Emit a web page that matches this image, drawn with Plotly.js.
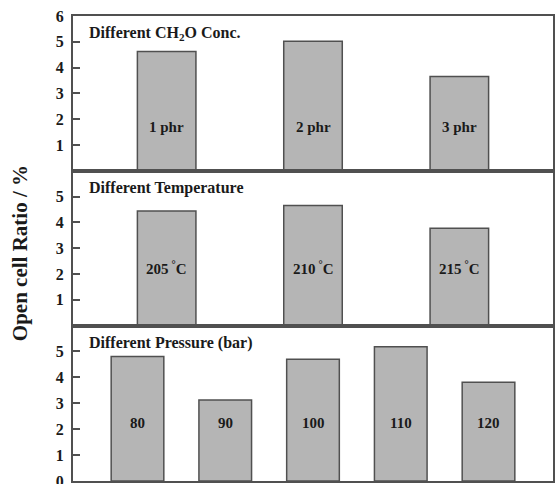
<!DOCTYPE html>
<html>
<head>
<meta charset="utf-8">
<script src="https://cdn.plot.ly/plotly-3.0.1.min.js"></script>
<style>html,body{margin:0;padding:0;background:#fff;}#chart{width:555px;height:484px;}</style>
</head>
<body>
<div id="chart"></div>
<script>
// Panel 1: different CH2O concentration
var concLabels = ["1 phr", "2 phr", "3 phr"];
var concValues = [4.63, 5.02, 3.66];
// Panel 2: different temperature
var tempLabels = ["205\u2009<sup>°</sup>C", "210\u2009<sup>°</sup>C", "215\u2009<sup>°</sup>C"];
var tempValues = [4.45, 4.66, 3.78];
// Panel 3: different pressure (bar)
var presLabels = ["80", "90", "100", "110", "120"];
var presValues = [4.80, 3.13, 4.70, 5.18, 3.81];

var panelTitles = ["Different CH<sub>2</sub>O Conc.", "Different Temperature", "Different Pressure (bar)"];
var yTitle = "Open cell Ratio / %";

var FONT = "Liberation Serif, Times New Roman, serif";
var TXT = "#1a1a1a";
var LINE = "#505050";

function idx(arr){ return arr.map(function(_, i){ return i; }); }

var panels = [
  {labels: concLabels, values: concValues, width: 0.40, range: [-0.64, 2.64], labelY: 1.72, ticks: [1,2,3,4,5,6]},
  {labels: tempLabels, values: tempValues, width: 0.40, range: [-0.64, 2.64], labelY: 2.23, ticks: [1,2,3,4,5]},
  {labels: presLabels, values: presValues, width: 0.60, range: [-0.735, 4.735], labelY: 2.23, ticks: [0,1,2,3,4,5]}
];
var domains = [[0.6667, 1], [0.3344, 0.6667], [0, 0.3344]];

var data = [];
var annotations = [];
var layout = {
  width: 555, height: 484,
  margin: {l: 73, r: 2, t: 16, b: 3},
  paper_bgcolor: "#ffffff",
  plot_bgcolor: "#ffffff",
  showlegend: false,
  font: {family: FONT, color: TXT, size: 15, weight: "bold"}
};

panels.forEach(function(p, k){
  var n = k === 0 ? "" : String(k + 1);
  var xs = idx(p.values);
  data.push({
    type: "bar",
    x: xs, y: p.values,
    width: p.width,
    xaxis: "x" + n, yaxis: "y" + n,
    marker: {color: "#b5b5b5", line: {color: LINE, width: 1.5}},
    hoverinfo: "skip"
  });
  layout["xaxis" + n] = {
    domain: [0, 1], anchor: "y" + n, range: p.range,
    showline: true, mirror: true, linecolor: LINE, linewidth: 2,
    showgrid: false, zeroline: false, ticks: "", showticklabels: false, fixedrange: true
  };
  layout["yaxis" + n] = {
    domain: domains[k], anchor: "x" + n, range: [0, 6],
    showline: true, mirror: true, linecolor: LINE, linewidth: 2,
    showgrid: false, zeroline: false,
    tickvals: p.ticks, ticktext: p.ticks.map(String),
    ticks: "inside", ticklen: 7, tickwidth: 2, tickcolor: LINE,
    tickfont: {family: FONT, size: 16, color: TXT, weight: "bold"},
    ticklabelstandoff: 4, ticklabeloverflow: "allow", fixedrange: true
  };
  annotations.push({
    xref: "x" + n + " domain", yref: "y" + n, x: 0.03, y: 5.33,
    xanchor: "left", yanchor: "middle", showarrow: false,
    text: "<b>" + panelTitles[k] + "</b>",
    font: {family: FONT, size: 16, color: TXT}
  });
  p.labels.forEach(function(lab, i){
    annotations.push({
      xref: "x" + n, yref: "y" + n, x: xs[i], y: p.labelY,
      xanchor: "center", yanchor: "middle", showarrow: false,
      text: "<b>" + lab + "</b>",
      font: {family: FONT, size: 15, color: TXT}
    });
  });
});

annotations.push({
  xref: "paper", yref: "paper", x: 0, y: 0.49, xshift: -53,
  xanchor: "center", yanchor: "middle", showarrow: false, textangle: -90,
  text: "<b>" + yTitle + "</b>",
  font: {family: FONT, size: 21, color: TXT}
});
layout.annotations = annotations;

Plotly.newPlot("chart", data, layout, {displayModeBar: false, staticPlot: true});
</script>
</body>
</html>
